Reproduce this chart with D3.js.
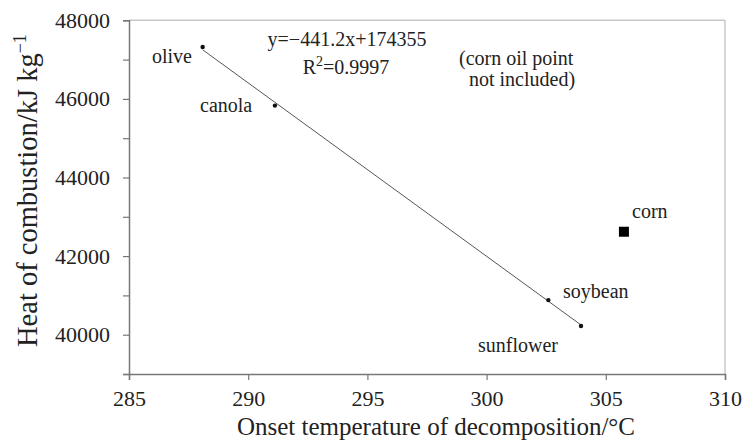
<!DOCTYPE html>
<html><head><meta charset="utf-8">
<script src="https://cdn.jsdelivr.net/npm/d3@7"></script>
<style>body{margin:0;background:#fff}svg{display:block}svg text{font-family:"Liberation Serif","Times New Roman",serif !important;fill:#222}</style>
</head><body>
<script>
const oils = ["olive","canola","soybean","sunflower"];
const onsetT = [288.09, 291.12, 302.59, 303.96];
const heat = [47320, 45830, 40880, 40220];
const cornT = [305.76];
const cornHeat = [42620];
const fitSlope = -441.2, fitIntercept = 174355;
const xTicks = [285,290,295,300,305,310];
const yTicks = [39000,40000,41000,42000,43000,44000,45000,46000,47000,48000];
const yLabels = [40000,42000,44000,46000,48000];

const W=743,H=441;
const svg=d3.select("body").append("svg").attr("width",W).attr("height",H);
const x=d3.scaleLinear().domain([285,310]).range([129,725]);
const y=d3.scaleLinear().domain([39000,48000]).range([374,20.3]);
const SERIF='"Liberation Serif","Times New Roman",serif';

// frame top/right
svg.append("line").attr("x1",x(285)).attr("x2",x(310)).attr("y1",y(48000)).attr("y2",y(48000)).attr("stroke","#c8c8c8").attr("stroke-width",1.5);
svg.append("line").attr("x1",x(310)).attr("x2",x(310)).attr("y1",y(48000)).attr("y2",y(39000)).attr("stroke","#c8c8c8").attr("stroke-width",1.5);

const gx=svg.append("g").attr("transform",`translate(0,${y(39000)})`)
 .call(d3.axisBottom(x).tickValues(xTicks).tickSize(6).tickPadding(10).tickFormat(d3.format("d")));
const gy=svg.append("g").attr("transform",`translate(${x(285)},0)`)
 .call(d3.axisLeft(y).tickValues(yTicks).tickSize(6).tickPadding(13).tickFormat(d=>yLabels.includes(d)?d:""));
[gx,gy].forEach(g=>{g.attr("font-family",null).attr("font-size",null);
 g.select(".domain").attr("stroke","#777").attr("stroke-width",1.5);
 g.selectAll(".tick line").attr("stroke","#777").attr("stroke-width",1.2);
 g.selectAll(".tick text").style("font-family",SERIF).style("font-size","22px").attr("fill","#222");});

// fit line
const x0=d3.min(onsetT), x1=d3.max(onsetT);
svg.append("line").attr("x1",x(x0)).attr("y1",y(fitSlope*x0+fitIntercept))
 .attr("x2",x(x1)).attr("y2",y(fitSlope*x1+fitIntercept)).attr("stroke","#555").attr("stroke-width",1);

// points
svg.selectAll("circle.p").data(oils).join("circle").attr("class","p")
 .attr("cx",(d,i)=>x(onsetT[i])).attr("cy",(d,i)=>y(heat[i])).attr("r",2.2).attr("fill","#111");
svg.selectAll("rect.corn").data(cornT).join("rect").attr("class","corn")
 .attr("x",(d)=>x(d)-5).attr("y",(d,i)=>y(cornHeat[i])-5).attr("width",10).attr("height",10).attr("fill","#000");

// point labels
const lblPos = {olive:[152,63], canola:[200,112], soybean:[563,298], sunflower:[478,352]};
svg.selectAll("text.lbl").data(oils).join("text").attr("class","lbl")
 .attr("x",d=>lblPos[d][0]).attr("y",d=>lblPos[d][1]).style("font-size","20px").text(d=>d);
svg.append("text").attr("x",632).attr("y",218).style("font-size","20px").text("corn");

// equation
svg.append("text").attr("x",347).attr("y",46).attr("text-anchor","middle").style("font-size","20px").text("y=\u2212441.2x+174355");
const r2=svg.append("text").attr("x",346).attr("y",74).attr("text-anchor","middle").style("font-size","20px");
r2.append("tspan").text("R");
r2.append("tspan").attr("dy",-8).style("font-size","14px").text("2");
r2.append("tspan").attr("dy",8).text("=0.9997");

svg.append("text").attr("x",459).attr("y",65).style("font-size","20px").text("(corn oil point");
svg.append("text").attr("x",469).attr("y",86).style("font-size","20px").text("not included)");

// axis titles
svg.append("text").attr("x",436).attr("y",435).attr("text-anchor","middle").style("font-size","25px").text("Onset temperature of decomposition/\u00B0C");
const yt=svg.append("text").attr("transform","translate(37,347) rotate(-90)").style("font-size","28.5px");
yt.append("tspan").text("Heat of combustion/kJ kg");
yt.append("tspan").attr("dy",-11).style("font-size","18px").text("\u22121");
</script>
</body></html>
